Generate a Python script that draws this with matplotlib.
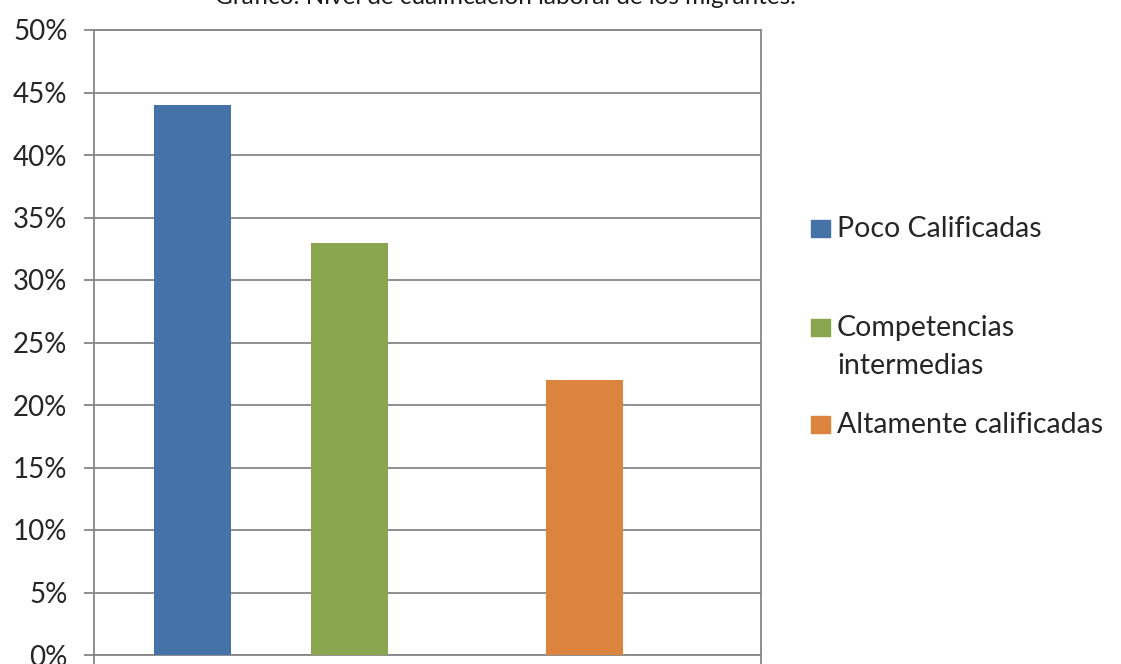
import matplotlib.pyplot as plt
from matplotlib.patches import Rectangle

# datos
categorias = ["Poco Calificadas", "Competencias\nintermedias", "Altamente calificadas"]
valores = [0.44, 0.33, 0.22]
colores = ["#4572A7", "#89A54E", "#DB843D"]
titulo = "Gráfico: Nivel de cualificación laboral de los migrantes."
yticks = [0.0, 0.05, 0.10, 0.15, 0.20, 0.25, 0.30, 0.35, 0.40, 0.45, 0.50]

# layout (posiciones en fracción del eje x)
posiciones = [0.148, 0.383, 0.735]
ancho = 0.116

W, H = 1121, 664
plt.rcParams['font.family'] = ['Lato', 'DejaVu Sans']
fig = plt.figure(figsize=(W / 100, H / 100), dpi=100)
ax = fig.add_axes([94 / W, (H - 655) / H, (761 - 94) / W, (655 - 30) / H])

gris = "#868686"
ax.bar(posiciones, valores, width=ancho, color=colores, zorder=3)

ax.set_xlim(0, 1)
ax.set_ylim(0, 0.5)
ax.set_yticks(yticks)
ax.set_yticklabels([f"{round(v * 100)}%" for v in yticks])
ax.yaxis.grid(True, color=gris, linewidth=1.3, zorder=0)
ax.tick_params(axis='y', direction='out', length=7, width=1.3, color=gris,
               labelsize=20, labelcolor="#262626", pad=12)
ax.set_xticks([0, 1])
ax.set_xticklabels(["", ""])
ax.tick_params(axis='x', direction='out', length=8, width=1.3, color=gris)
for s in ax.spines.values():
    s.set_color(gris)
    s.set_linewidth(1.3)

fig.text(505 / W, 1 - 4 / H, titulo, ha='center', va='baseline', fontsize=17.5,
         color="#1a1a1a")

# leyenda manual
base = [237, 336, 433]
for cat, col, b in zip(categorias, colores, base):
    fig.patches.append(Rectangle((811 / W, (H - b) / H), 19 / W, 17 / H,
                                 transform=fig.transFigure, color=col))
    lineas = cat.split("\n")
    for k, ln in enumerate(lineas):
        fig.text(837 / W, (H - b - k * 38) / H, ln, ha='left', va='baseline',
                 fontsize=20.5, color="#262626")

fig.savefig("out.png", dpi=100)
